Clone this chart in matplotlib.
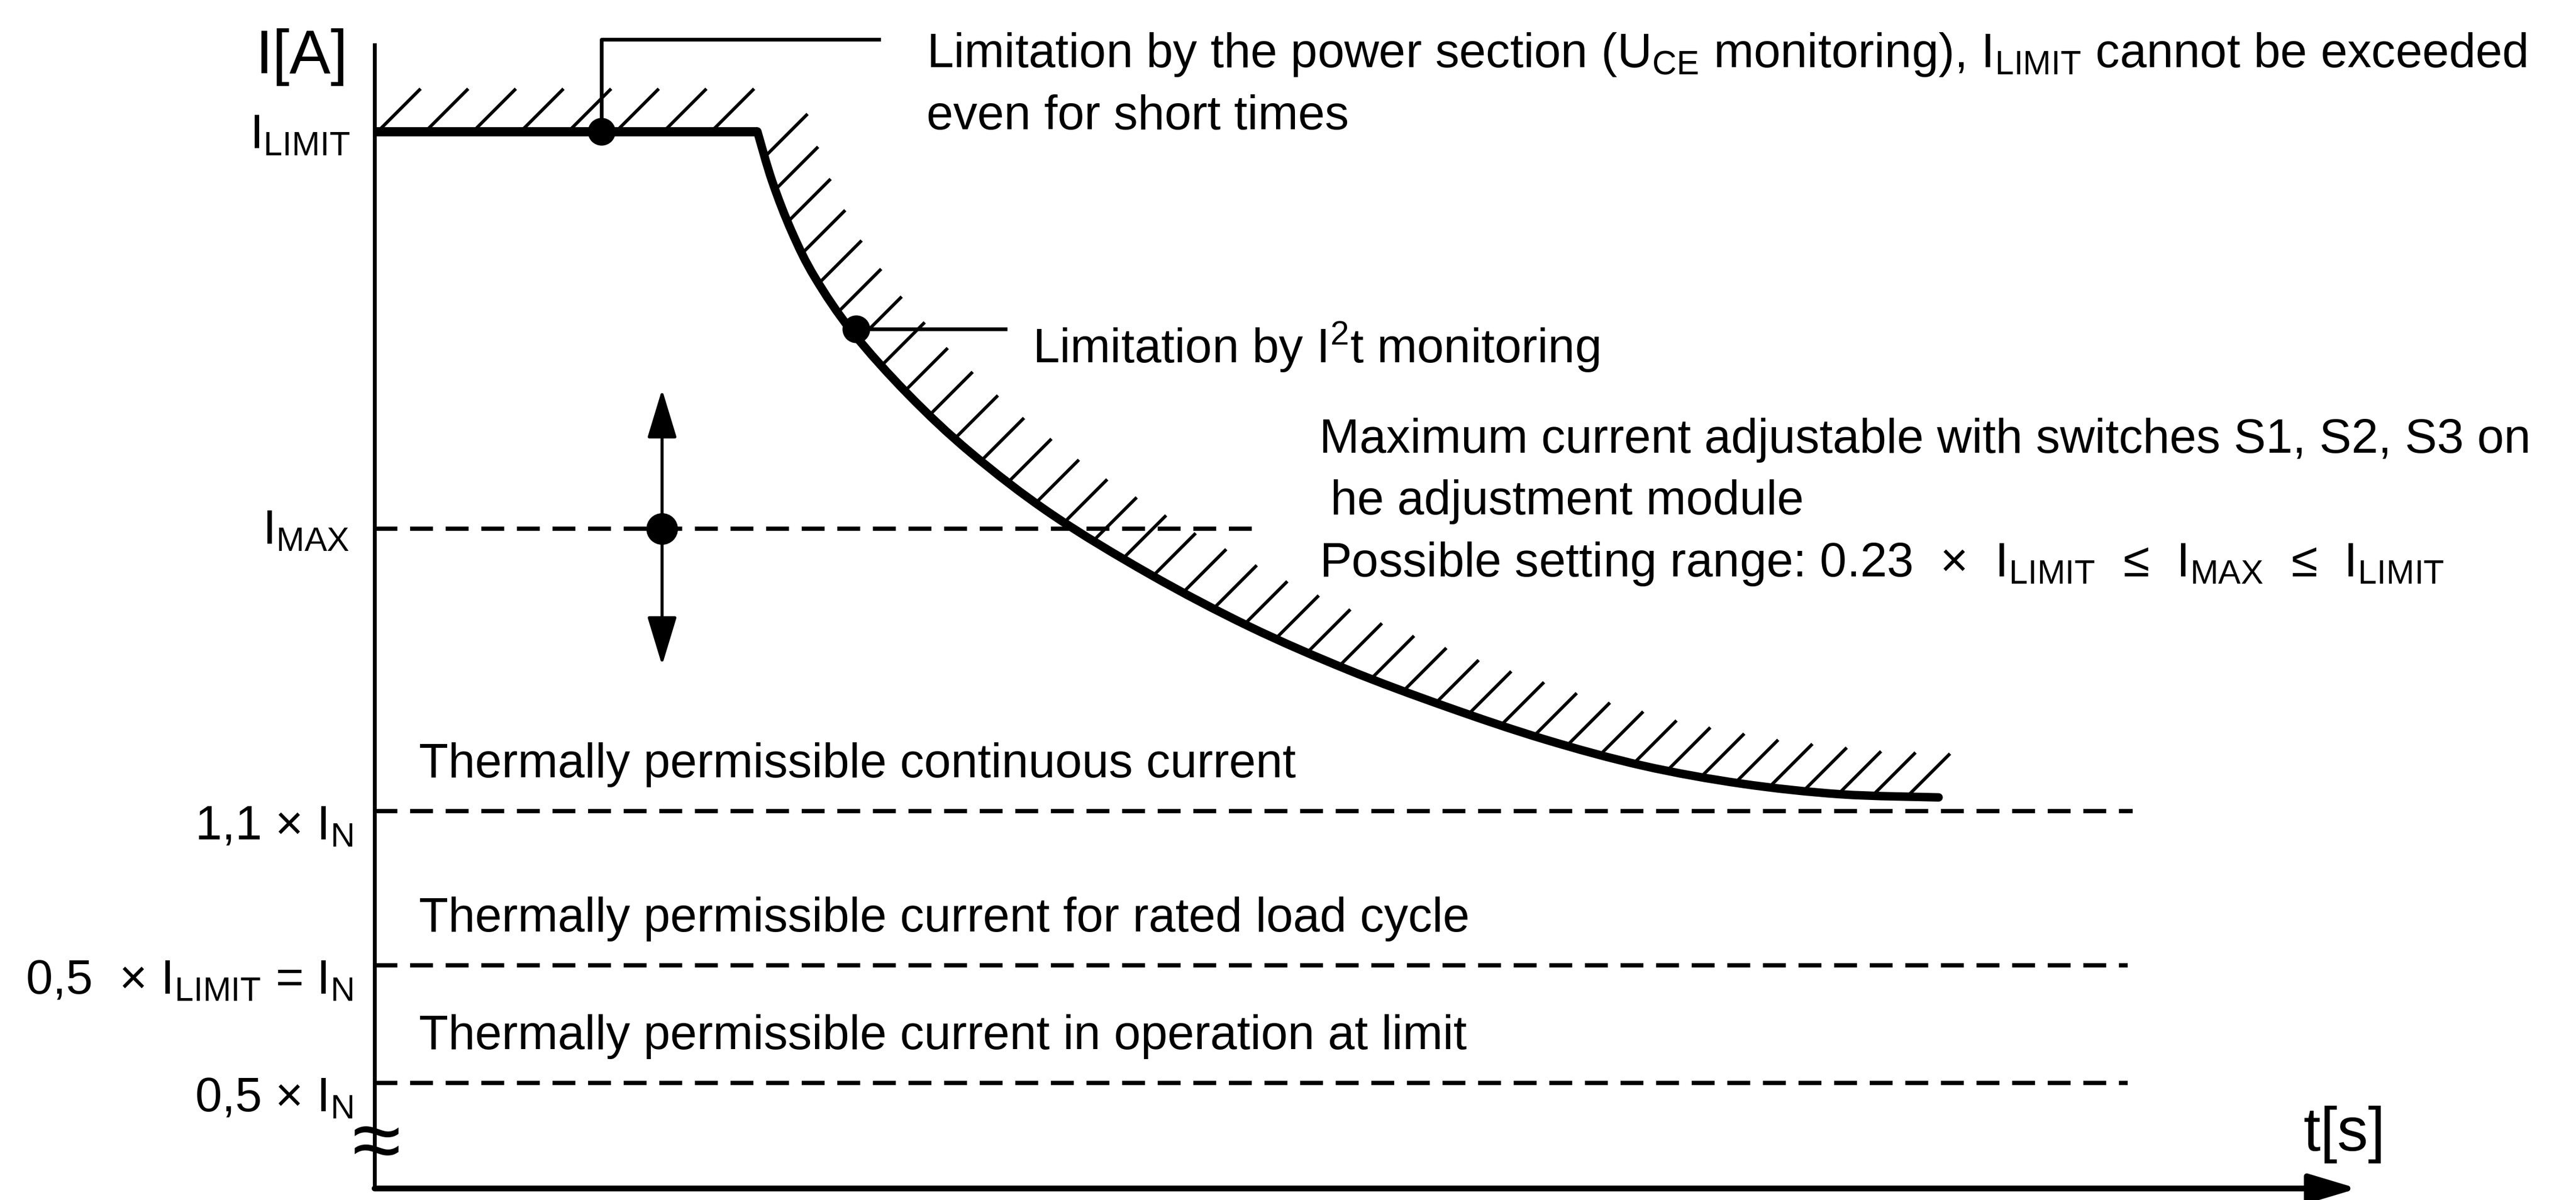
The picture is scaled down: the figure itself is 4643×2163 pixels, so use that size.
import matplotlib
matplotlib.use("Agg")
import matplotlib.pyplot as plt
import numpy as np
from matplotlib.patches import PathPatch
from matplotlib.path import Path

plt.rcParams["font.family"] = ["Liberation Sans", "DejaVu Sans"]
plt.rcParams["mathtext.default"] = "regular"

# schematic units: I_LIMIT = 100, the current axis is broken below 0,5 x I_N
I_LIMIT = 100.0
I_MAX = 62.4
T_END = 120.7
I_TOP = 108.2

level_labels = ["1,1 × $I_N$", "0,5  × $I_{LIMIT}$ = $I_N$", "0,5 × $I_N$"]
level_values = [35.7, 21.1, 10.0]
level_ends = [107.0, 106.7, 106.7]
level_notes = [
    "Thermally permissible continuous current",
    "Thermally permissible current for rated load cycle",
    "Thermally permissible current in operation at limit",
]

# limit characteristic: U_CE limited flat part, then I²t part
flat_t = [0.0, 23.3]
flat_i = [100.0, 100.0]
curve_t = [23.3, 24.2, 25.4, 26.8, 29.1, 32.5, 36.3, 41.2, 47.2, 53.2,
           59.2, 65.2, 71.2, 77.2, 83.2, 89.2, 95.2]
curve_i = [100.0, 95.3, 90.5, 86.2, 81.0, 75.1, 69.6, 63.8, 58.1, 53.2,
           49.1, 45.6, 42.5, 40.0, 38.3, 37.3, 37.0]

uce_point = (13.8, 100.0)
i2t_point = (29.3, 81.3)
imax_arrow_t = 17.5
imax_range = (49.5, 75.6)
imax_line_end = 54.0

# px of the drawing per data unit (keeps hatching at 45 degrees)
PX_T = 10.0
PX_I = 6.43


def smooth_path(t, i):
    # catmull-rom through the points, as cubic bezier segments
    p = np.column_stack([np.asarray(t) * PX_T, np.asarray(i) * PX_I])
    ext = np.vstack([p[0], p, p[-1]])
    verts = [p[0]]
    codes = [Path.MOVETO]
    for k in range(1, len(ext) - 2):
        c1 = ext[k] + (ext[k + 1] - ext[k - 1]) / 6.0
        c2 = ext[k + 1] - (ext[k + 2] - ext[k]) / 6.0
        verts += [c1, c2, ext[k + 1]]
        codes += [Path.CURVE4] * 3
    verts = np.array(verts) / [PX_T, PX_I]
    return Path(verts, codes)


def hatch_at(ax, t, i, positions, length=26.0, lw=4.2):
    x = np.asarray(t) * PX_T
    y = np.asarray(i) * PX_I
    s = np.concatenate([[0.0], np.cumsum(np.hypot(np.diff(x), np.diff(y)))])
    for si in positions:
        if si > s[-1]:
            break
        bx = np.interp(si, s, x)
        by = np.interp(si, s, y)
        ax.plot([bx / PX_T, (bx + length) / PX_T], [by / PX_I, (by + length) / PX_I],
                color="black", lw=lw, solid_capstyle="butt", zorder=2)


fig = plt.figure(figsize=(46.43, 21.63), dpi=100)
fig.patch.set_facecolor("white")
ax = fig.add_axes([0, 0, 1, 1])
ax.set_xlim(-22.8, 134.0)
ax.set_ylim(-1.09, 112.44)
ax.axis("off")

FS = 62.5
BIG = 80

# axes
ax.plot([0, 0], [0, I_TOP], color="black", lw=5, zorder=3)
ax.annotate("", xy=(T_END, 0), xytext=(0, 0),
            arrowprops=dict(arrowstyle="-|>,head_length=0.6,head_width=0.18",
                            mutation_scale=88, lw=7.5, color="black",
                            shrinkA=0, shrinkB=0))
ax.text(0.1, 3.9, "≈", fontsize=115, ha="center", va="center", zorder=4)
ax.text(-1.6, 105.5, "I[A]", fontsize=BIG, ha="right", va="baseline")
ax.text(117.4, 3.6, "t[s]", fontsize=BIG, ha="left", va="baseline")

# I_LIMIT / I_MAX labels
ax.text(-1.5, 98.4, "$I_{LIMIT}$", fontsize=FS, ha="right", va="baseline")
ax.text(-1.5, 61.0, "$I_{MAX}$", fontsize=FS, ha="right", va="baseline")

# dashed levels
dash = (0, (5.4, 3.0))
ax.plot([0, imax_line_end], [I_MAX, I_MAX], color="black", lw=5.5, linestyle=dash, zorder=2)
for label, val, end, note in zip(level_labels, level_values, level_ends, level_notes):
    ax.plot([0, end], [val, val], color="black", lw=5.5, linestyle=dash, zorder=2)
    ax.text(-1.3, val - 2.7, label, fontsize=FS, ha="right", va="baseline")
    ax.text(2.7, val + 3.2, note, fontsize=FS, ha="left", va="baseline")

# limit curve + hatching
ax.plot(flat_t, flat_i, color="black", lw=12, solid_capstyle="butt", zorder=3)
ax.add_patch(PathPatch(smooth_path(curve_t, curve_i), fill=False, edgecolor="black",
                       lw=11, capstyle="round", joinstyle="round", zorder=3))
hatch_at(ax, flat_t, flat_i, np.linspace(2.0, 234.0, 9))
hatch_at(ax, curve_t, curve_i, np.arange(16.0, 2000.0, 21.0))

# U_CE limitation callout
ax.plot(*uce_point, marker="o", ms=35, color="black", zorder=4)
ax.plot([uce_point[0], uce_point[0], 30.7], [uce_point[1], 108.7, 108.7],
        color="black", lw=4.8, zorder=2)
ax.text(33.6, 106.1,
        "Limitation by the power section ($U_{CE}$ monitoring), $I_{LIMIT}$ cannot be exceeded",
        fontsize=FS, ha="left", va="baseline")
ax.text(33.6, 100.2, "even for short times", fontsize=FS, ha="left", va="baseline")

# I²t callout
ax.plot(*i2t_point, marker="o", ms=35, color="black", zorder=4)
ax.plot([i2t_point[0], 38.4], [i2t_point[1], i2t_point[1]], color="black", lw=4.8, zorder=2)
ax.text(40.05, 78.1, "Limitation by $I^2$t monitoring", fontsize=FS, ha="left", va="baseline")

# I_MAX adjustment
ax.annotate("", xy=(imax_arrow_t, imax_range[1]), xytext=(imax_arrow_t, imax_range[0]),
            arrowprops=dict(arrowstyle="<|-|>,head_length=0.66,head_width=0.2",
                            mutation_scale=83, lw=4, color="black",
                            shrinkA=0, shrinkB=0), zorder=3)
ax.plot(imax_arrow_t, I_MAX, marker="o", ms=40, color="black", zorder=4)
ax.text(57.5, 69.6, "Maximum current adjustable with switches S1, S2, S3 on",
        fontsize=FS, ha="left", va="baseline")
ax.text(58.2, 63.8, "he adjustment module", fontsize=FS, ha="left", va="baseline")
ax.text(57.5, 57.9,
        "Possible setting range: 0.23  ×  $I_{LIMIT}$  ≤  $I_{MAX}$  ≤  $I_{LIMIT}$",
        fontsize=FS, ha="left", va="baseline")

fig.savefig("out.png", dpi=100, facecolor="white")
